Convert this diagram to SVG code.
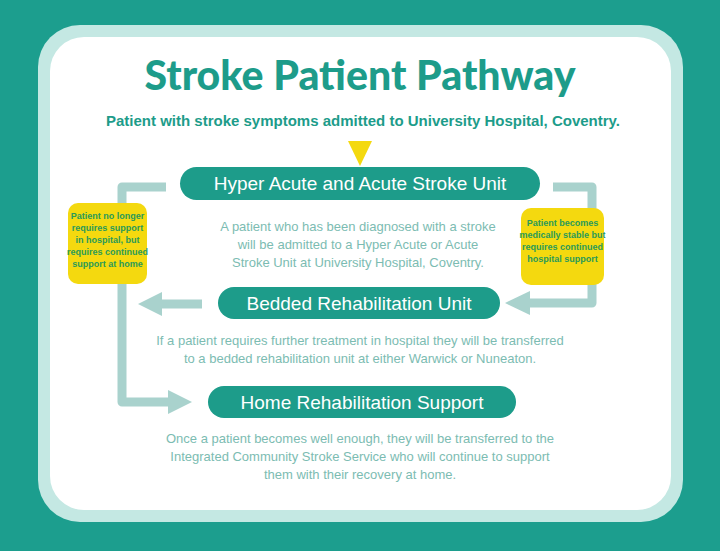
<svg xmlns="http://www.w3.org/2000/svg" width="720" height="551" viewBox="0 0 720 551">
<style>
.pill{fill:#1d9c8a}
.pt{font-family:"Liberation Sans",Arial,sans-serif;font-size:19px;fill:#fff;text-anchor:middle}
.body{font-family:"Liberation Sans",Arial,sans-serif;font-size:13px;fill:#7cbcb2;text-anchor:middle}
.yb{fill:#f4d90f}
.yt{font-family:"Liberation Sans",Arial,sans-serif;font-size:9px;font-weight:bold;fill:#2a9a5a;text-anchor:middle}
.conn{fill:none;stroke:#a9d2cd;stroke-width:9;stroke-linejoin:round}
.head{fill:#a9d2cd}
</style>
<rect width="720" height="551" fill="#1c9e8e"/>
<rect x="38" y="25" width="645" height="497" rx="42" fill="#c4e8e3"/>
<rect x="50" y="37" width="621" height="473" rx="34" fill="#fff"/>
<text x="360" y="90" font-family="Lato,'Liberation Sans',sans-serif" font-weight="900" font-size="41" fill="#1d9c8a" text-anchor="middle">Stroke Patient Pathway</text>
<text x="363" y="126" font-family="'Liberation Sans',Arial,sans-serif" font-size="15" font-weight="bold" fill="#1d9c8a" text-anchor="middle">Patient with stroke symptoms admitted to University Hospital, Coventry.</text>
<g id="connectors">
<polygon points="348,141 372,141 360,166" fill="#f4d90f"/>
<path class="conn" d="M166,187 H122 V402 H170"/>
<polygon class="head" points="168,390 192,402 168,414"/>
<path class="conn" d="M553,187 H592 V303 H528"/>
<polygon class="head" points="530,291 505,303 530,315"/>
<path class="conn" d="M202,304 H160"/>
<polygon class="head" points="162,292 138,304 162,316"/>
</g>
<g id="acute"><rect class="pill" x="180" y="167" width="360" height="33" rx="16.5"/><text class="pt" x="360" y="190">Hyper Acute and Acute Stroke Unit</text></g>
<g id="acute-desc"><text class="body" x="358" y="231">A patient who has been diagnosed with a stroke</text><text class="body" x="358" y="249">will be admitted to a Hyper Acute or Acute</text><text class="body" x="358" y="267">Stroke Unit at University Hospital, Coventry.</text></g>
<g id="note-left"><rect class="yb" x="68" y="203" width="79" height="81" rx="10"/>
<text class="yt" x="107.5" y="219">Patient no longer</text><text class="yt" x="107.5" y="231">requires support</text><text class="yt" x="107.5" y="243">in hospital, but</text><text class="yt" x="107.5" y="255">requires continued</text><text class="yt" x="107.5" y="267">support at home</text></g>
<g id="note-right"><rect class="yb" x="521" y="208" width="83" height="77" rx="10"/>
<text class="yt" x="562.5" y="226">Patient becomes</text><text class="yt" x="562.5" y="238">medically stable but</text><text class="yt" x="562.5" y="250">requires continued</text><text class="yt" x="562.5" y="262">hospital support</text></g>
<g id="bedded"><rect class="pill" x="218" y="287" width="282" height="32" rx="16"/><text class="pt" x="359" y="310">Bedded Rehabilitation Unit</text></g>
<g id="bedded-desc"><text class="body" x="360" y="345">If a patient requires further treatment in hospital they will be transferred</text><text class="body" x="360" y="363">to a bedded rehabilitation unit at either Warwick or Nuneaton.</text></g>
<g id="home"><rect class="pill" x="208" y="386" width="308" height="32" rx="16"/><text class="pt" x="362" y="409">Home Rehabilitation Support</text></g>
<g id="home-desc"><text class="body" x="360" y="443">Once a patient becomes well enough, they will be transferred to the</text><text class="body" x="360" y="461">Integrated Community Stroke Service who will continue to support</text><text class="body" x="360" y="479">them with their recovery at home.</text></g>
</svg>
